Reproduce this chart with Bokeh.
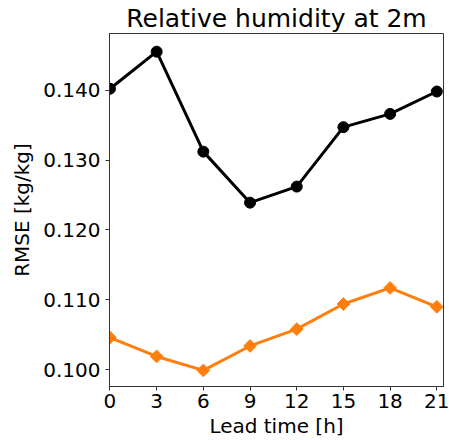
import numpy as np
from bokeh.plotting import figure
from bokeh.models import Range1d, FixedTicker, CustomJSTickFormatter
from bokeh.embed import file_html
from bokeh.resources import INLINE

lead_time = [0, 3, 6, 9, 12, 15, 18, 21]
rmse_black = [0.1402, 0.1455, 0.1312, 0.1239, 0.1262, 0.1347, 0.1366, 0.1398]
rmse_orange = [0.1046, 0.1019, 0.0999, 0.1034, 0.1058, 0.1094, 0.1117, 0.1090]
x_ticks = [0, 3, 6, 9, 12, 15, 18, 21]
y_ticks = [0.100, 0.110, 0.120, 0.130, 0.140]

FONT = "DejaVu Sans"

p = figure(width=449, height=440, output_backend="svg", toolbar_location=None,
           x_range=Range1d(-0.03, 21.43), y_range=Range1d(0.0976, 0.1481),
           min_border_left=109, min_border_right=6, min_border_top=33, min_border_bottom=53)

p.title.text = "Relative humidity at 2m"
p.title.text_font = FONT
p.title.text_font_size = "25px"
p.title.text_font_style = "normal"
p.title.text_color = "black"
p.title.align = "center"
p.title.offset = 0
p.title.standoff = 2

p.xgrid.visible = False
p.ygrid.visible = False
p.outline_line_color = "#333333"
p.outline_line_width = 1
p.background_fill_color = "white"
p.border_fill_color = "white"

for ax in (p.xaxis, p.yaxis):
    ax.axis_line_color = "#333333"
    ax.major_tick_line_color = "#333333"
    ax.major_tick_in = 0
    ax.major_tick_out = 4
    ax.minor_tick_line_color = None
    ax.major_label_text_font = FONT
    ax.major_label_text_font_size = "20px"
    ax.major_label_text_color = "black"
    ax.axis_label_text_font = FONT
    ax.axis_label_text_font_size = "20px"
    ax.axis_label_text_font_style = "normal"
    ax.axis_label_text_color = "black"

p.xaxis.ticker = FixedTicker(ticks=x_ticks)
p.yaxis.ticker = FixedTicker(ticks=y_ticks)
p.yaxis.formatter = CustomJSTickFormatter(code="return tick.toFixed(3);")
p.xaxis.axis_label = "Lead time [h]"
p.yaxis.axis_label = "RMSE [kg/kg]"
p.xaxis.major_label_standoff = 3
p.yaxis.major_label_standoff = 5
p.xaxis.axis_label_standoff = 3
p.yaxis.axis_label_standoff = 6

p.line(lead_time, rmse_black, line_color="black", line_width=3)
p.scatter(lead_time, rmse_black, marker="circle", size=11, fill_color="black", line_color="black")

p.line(lead_time, rmse_orange, line_color="#ff7f0e", line_width=3)
p.scatter(lead_time, rmse_orange, marker="square", size=9, angle=np.pi / 4,
          fill_color="#ff7f0e", line_color="#ff7f0e")

open("out.html", "w").write(file_html(p, INLINE))
